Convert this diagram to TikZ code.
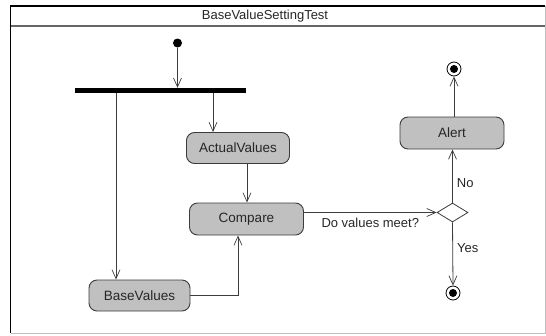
\documentclass[tikz,border=0pt]{standalone}
\usepackage{fontspec}
\setmainfont{Liberation Sans}
\usetikzlibrary{arrows.meta,shapes.geometric}
\definecolor{boxfill}{RGB}{192,192,192}
\definecolor{linec}{RGB}{60,60,60}
\tikzset{
  act/.style={draw=linec, line width=0.9pt, fill=boxfill, rounded corners=8pt, inner sep=0pt, font=\fontsize{13.5}{15}\selectfont, text=black!85},
  flow/.style={draw=linec, line width=0.8pt, -{Straight Barb[length=9pt,width=8pt,line width=0.7pt]}},
  lbl/.style={font=\fontsize{13}{15}\selectfont, text=black!85, inner sep=0pt},
}
\begin{document}
\begin{tikzpicture}[x=1pt,y=-1pt]
\useasboundingbox (0,0) rectangle (546,335);
% frame
\draw[black!25, line width=1pt] (545,6) -- (545,333) -- (10.5,333);
\draw[black, line width=1.4pt] (10.5,333) -- (10.5,6) -- (545,6);
\draw[black!60, line width=1.5pt] (10.5,26) -- (545,26);
\node[lbl] (title) at (265,16) {BaseValueSettingTest};
% nodes
\node[circle, fill=black, inner sep=0pt, minimum size=9pt] (init) at (177.5,43) {};
\node[fill=black, inner sep=0pt, minimum width=171pt, minimum height=5pt] (bar) at (160.5,90.5) {};
\node[act, minimum width=103pt, minimum height=31pt] (actual) at (238,148) {ActualValues};
\node[act, minimum width=114pt, minimum height=32pt] (compare) at (246.5,219) {Compare};
\node[act, minimum width=101pt, minimum height=31pt] (base) at (139.5,295.5) {BaseValues};
\node[act, minimum width=104pt, minimum height=32pt] (alert) at (452,133) {Alert};
\node[diamond, draw=linec, line width=0.8pt, fill=white, inner sep=0pt, minimum width=31pt, minimum height=19pt] (dia) at (452.5,212.5) {};
\node[circle, draw=black, line width=0.8pt, fill=white, inner sep=0pt, minimum size=14pt] (fin1) at (454,69) {};
\node[circle, fill=black, inner sep=0pt, minimum size=8pt] (fin1dot) at (fin1) {};
\node[circle, draw=black, line width=0.8pt, fill=white, inner sep=0pt, minimum size=14pt] (fin2) at (453,293) {};
\node[circle, fill=black, inner sep=0pt, minimum size=8pt] (fin2dot) at (fin2) {};
% connectors
\draw[flow] (init) -- (init |- bar.north);
\draw[flow] (116,0 |- bar.south) -- (116,0 |- base.north);
\draw[flow] (213,0 |- bar.south) -- (213,0 |- actual.north);
\draw[flow] (247,0 |- actual.south) -- (247,0 |- compare.north);
\draw[flow] (base.east) -| (238,0 |- compare.south);
\draw[flow] (compare.east |- dia.west) -- node[lbl, below=5pt, pos=0.5] (q) {Do values meet?} (dia.west);
\draw[flow] (dia.north) -- node[lbl, right=4pt, pos=0.37] (no) {No} (alert.south -| dia.north);
\draw[flow] (dia.south) -- node[lbl, right=4pt, pos=0.4] (yes) {Yes} (fin2.north);
\draw[flow] (alert.north -| fin1.south) -- (fin1.south);
\end{tikzpicture}
\end{document}
